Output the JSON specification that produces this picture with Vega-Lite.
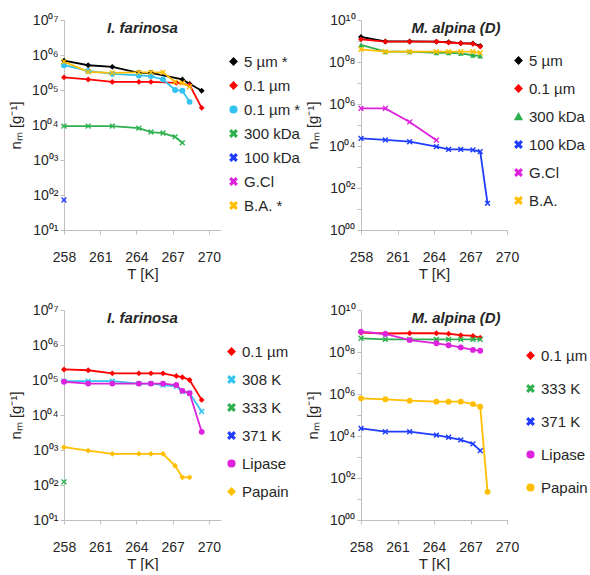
{
  "$schema": "https://vega.github.io/schema/vega-lite/v6.json",
  "padding": {"left": 8, "top": 13, "right": 0, "bottom": 0},
  "columns": 2,
  "bounds": "flush",
  "spacing": {"row": 80, "column": 140},
  "resolve": {
    "scale": {"color": "independent", "shape": "independent", "x": "independent", "y": "independent"},
    "legend": {"color": "independent", "shape": "independent"}
  },
  "config": {
    "view": {"stroke": null},
    "font": "Liberation Sans",
    "axis": {"grid": false, "domainColor": "#bfbfbf", "tickColor": "#bfbfbf", "labelColor": "#262626", "titleColor": "#262626", "labelFontSize": 14, "titleFontSize": 15, "titleFontWeight": "normal", "tickSize": 4, "labelFlush": false, "labelOverlap": false},
    "legend": {"labelFontSize": 15, "labelColor": "#262626", "orient": "none", "padding": 0, "symbolSize": 45, "title": null, "labelOffset": 3},
    "title": {"fontSize": 15, "fontWeight": "bold", "fontStyle": "italic", "color": "#262626", "frame": "group", "anchor": "middle", "offset": -23}
  },
  "concat": [
    {
      "width": 157, "height": 210,
      "title": {"text": "I. farinosa"},
      "data": {"values": [
        {"s": "5 µm *", "T": 258, "n": 690000}, {"s": "5 µm *", "T": 260, "n": 510000}, {"s": "5 µm *", "T": 262, "n": 460000}, {"s": "5 µm *", "T": 264.2, "n": 310000}, {"s": "5 µm *", "T": 265.2, "n": 310000}, {"s": "5 µm *", "T": 267.8, "n": 200000}, {"s": "5 µm *", "T": 268.4, "n": 150000}, {"s": "5 µm *", "T": 269.4, "n": 95000},
        {"s": "0.1 µm", "T": 258, "n": 230000}, {"s": "0.1 µm", "T": 260, "n": 200000}, {"s": "0.1 µm", "T": 262, "n": 170000}, {"s": "0.1 µm", "T": 264.2, "n": 170000}, {"s": "0.1 µm", "T": 265.2, "n": 170000}, {"s": "0.1 µm", "T": 267.3, "n": 160000}, {"s": "0.1 µm", "T": 268.4, "n": 140000}, {"s": "0.1 µm", "T": 269.4, "n": 31000},
        {"s": "0.1 µm *", "T": 258, "n": 510000}, {"s": "0.1 µm *", "T": 260, "n": 350000}, {"s": "0.1 µm *", "T": 262, "n": 290000}, {"s": "0.1 µm *", "T": 264.2, "n": 260000}, {"s": "0.1 µm *", "T": 265.2, "n": 250000}, {"s": "0.1 µm *", "T": 266.2, "n": 200000}, {"s": "0.1 µm *", "T": 267.2, "n": 100000}, {"s": "0.1 µm *", "T": 267.8, "n": 95000}, {"s": "0.1 µm *", "T": 268.4, "n": 46000},
        {"s": "300 kDa", "T": 258, "n": 9300}, {"s": "300 kDa", "T": 260, "n": 9300}, {"s": "300 kDa", "T": 262, "n": 9300}, {"s": "300 kDa", "T": 264.2, "n": 8100}, {"s": "300 kDa", "T": 265.2, "n": 6300}, {"s": "300 kDa", "T": 266.2, "n": 5900}, {"s": "300 kDa", "T": 267.2, "n": 4600}, {"s": "300 kDa", "T": 267.8, "n": 3100},
        {"s": "100 kDa", "T": 258, "n": 72},
        {"s": "B.A. *", "T": 258, "n": 650000}, {"s": "B.A. *", "T": 260, "n": 330000}, {"s": "B.A. *", "T": 262, "n": 310000}, {"s": "B.A. *", "T": 264.2, "n": 320000}, {"s": "B.A. *", "T": 265.2, "n": 320000}, {"s": "B.A. *", "T": 266.2, "n": 320000}, {"s": "B.A. *", "T": 267.2, "n": 170000}, {"s": "B.A. *", "T": 267.8, "n": 160000}, {"s": "B.A. *", "T": 268.4, "n": 125000}
      ]},
      "encoding": {
        "x": {"field": "T", "type": "quantitative", "scale": {"domain": [258, 271], "nice": false, "zero": false}, "axis": {"values": [258, 261, 264, 267, 270], "format": "d", "title": "T [K]", "labelPadding": 16, "titlePadding": 2}},
        "y": {"field": "n", "type": "quantitative", "scale": {"type": "log", "domain": [10, 10000000], "nice": false}, "axis": {"values": [10, 100, 1000, 10000, 100000, 1000000, 10000000], "title": "nₘ [g⁻¹]", "titlePadding": 8, "labelPadding": 2, "labelExpr": "'10' + substring('⁰¹²³⁴⁵⁶⁷⁸⁹', floor(round(log(datum.value)/LN10)/10), floor(round(log(datum.value)/LN10)/10)+1) + substring('⁰¹²³⁴⁵⁶⁷⁸⁹', round(log(datum.value)/LN10)%10, round(log(datum.value)/LN10)%10+1)"}}
      },
      "layer": [
        {"mark": {"type": "line", "strokeWidth": 1.8}, "encoding": {"color": {"field": "s", "type": "nominal", "scale": {"domain": ["5 µm *", "0.1 µm", "0.1 µm *", "300 kDa", "100 kDa", "G.Cl", "B.A. *"], "range": ["#000000", "#ff0000", "#33c3f0", "#2eb04e", "#1f3cff", "#dd22dd", "#ffbf00"]}}}},
        {"mark": {"type": "point", "filled": true, "size": 34, "opacity": 1}, "encoding": {
          "color": {"field": "s", "type": "nominal", "scale": {"domain": ["5 µm *", "0.1 µm", "0.1 µm *", "300 kDa", "100 kDa", "G.Cl", "B.A. *"], "range": ["#000000", "#ff0000", "#33c3f0", "#2eb04e", "#1f3cff", "#dd22dd", "#ffbf00"]}, "legend": {"legendX": 162, "legendY": 34, "rowPadding": 8}},
          "shape": {"field": "s", "type": "nominal", "scale": {"domain": ["5 µm *", "0.1 µm", "0.1 µm *", "300 kDa", "100 kDa", "G.Cl", "B.A. *"], "range": ["diamond", "diamond", "circle", "M-1,-0.65L-0.65,-1L0,-0.35L0.65,-1L1,-0.65L0.35,0L1,0.65L0.65,1L0,0.35L-0.65,1L-1,0.65L-0.35,0Z", "M-1,-0.65L-0.65,-1L0,-0.35L0.65,-1L1,-0.65L0.35,0L1,0.65L0.65,1L0,0.35L-0.65,1L-1,0.65L-0.35,0Z", "M-1,-0.65L-0.65,-1L0,-0.35L0.65,-1L1,-0.65L0.35,0L1,0.65L0.65,1L0,0.35L-0.65,1L-1,0.65L-0.35,0Z", "M-1,-0.65L-0.65,-1L0,-0.35L0.65,-1L1,-0.65L0.35,0L1,0.65L0.65,1L0,0.35L-0.65,1L-1,0.65L-0.35,0Z"]}, "legend": {"legendX": 162, "legendY": 34, "rowPadding": 8}}
        }}
      ]
    },
    {
      "width": 146, "height": 210,
      "title": {"text": "M. alpina (D)", "dx": 22},
      "data": {"values": [
        {"s": "5 µm", "T": 258, "n": 1550000000}, {"s": "5 µm", "T": 260, "n": 950000000}, {"s": "5 µm", "T": 262, "n": 950000000}, {"s": "5 µm", "T": 264.2, "n": 930000000}, {"s": "5 µm", "T": 265.2, "n": 890000000}, {"s": "5 µm", "T": 266.2, "n": 790000000}, {"s": "5 µm", "T": 267.2, "n": 760000000}, {"s": "5 µm", "T": 267.8, "n": 580000000},
        {"s": "0.1 µm", "T": 258, "n": 1200000000}, {"s": "0.1 µm", "T": 260, "n": 930000000}, {"s": "0.1 µm", "T": 262, "n": 930000000}, {"s": "0.1 µm", "T": 264.2, "n": 930000000}, {"s": "0.1 µm", "T": 265.2, "n": 850000000}, {"s": "0.1 µm", "T": 266.2, "n": 780000000}, {"s": "0.1 µm", "T": 267.2, "n": 740000000}, {"s": "0.1 µm", "T": 267.8, "n": 540000000},
        {"s": "300 kDa", "T": 258, "n": 650000000}, {"s": "300 kDa", "T": 260, "n": 310000000}, {"s": "300 kDa", "T": 262, "n": 310000000}, {"s": "300 kDa", "T": 264.2, "n": 275000000}, {"s": "300 kDa", "T": 265.2, "n": 275000000}, {"s": "300 kDa", "T": 266.2, "n": 260000000}, {"s": "300 kDa", "T": 267.2, "n": 210000000}, {"s": "300 kDa", "T": 267.8, "n": 195000000},
        {"s": "100 kDa", "T": 258, "n": 23000}, {"s": "100 kDa", "T": 260, "n": 19500}, {"s": "100 kDa", "T": 262, "n": 16000}, {"s": "100 kDa", "T": 264.2, "n": 9300}, {"s": "100 kDa", "T": 265.2, "n": 6900}, {"s": "100 kDa", "T": 266.2, "n": 6900}, {"s": "100 kDa", "T": 267.2, "n": 6500}, {"s": "100 kDa", "T": 267.8, "n": 5400}, {"s": "100 kDa", "T": 268.4, "n": 18.6},
        {"s": "G.Cl", "T": 258, "n": 620000}, {"s": "G.Cl", "T": 260, "n": 620000}, {"s": "G.Cl", "T": 262, "n": 140000}, {"s": "G.Cl", "T": 264.2, "n": 19000},
        {"s": "B.A.", "T": 258, "n": 400000000}, {"s": "B.A.", "T": 260, "n": 310000000}, {"s": "B.A.", "T": 262, "n": 310000000}, {"s": "B.A.", "T": 264.2, "n": 310000000}, {"s": "B.A.", "T": 265.2, "n": 310000000}, {"s": "B.A.", "T": 266.2, "n": 310000000}, {"s": "B.A.", "T": 267.2, "n": 310000000}, {"s": "B.A.", "T": 267.8, "n": 275000000}
      ]},
      "encoding": {
        "x": {"field": "T", "type": "quantitative", "scale": {"domain": [258, 270], "nice": false, "zero": false}, "axis": {"values": [258, 261, 264, 267, 270], "format": "d", "title": "T [K]", "labelPadding": 16, "titlePadding": 2}},
        "y": {"field": "n", "type": "quantitative", "scale": {"type": "log", "domain": [1, 10000000000], "nice": false}, "axis": {"values": [1, 10, 100, 1000, 10000, 100000, 1000000, 10000000, 100000000, 1000000000, 10000000000], "title": "nₘ [g⁻¹]", "titlePadding": 8, "labelPadding": 2, "labelExpr": "round(log(datum.value)/LN10)%2==1 ? '' : '10' + substring('⁰¹²³⁴⁵⁶⁷⁸⁹', floor(round(log(datum.value)/LN10)/10), floor(round(log(datum.value)/LN10)/10)+1) + substring('⁰¹²³⁴⁵⁶⁷⁸⁹', round(log(datum.value)/LN10)%10, round(log(datum.value)/LN10)%10+1)"}}
      },
      "layer": [
        {"mark": {"type": "line", "strokeWidth": 1.8}, "encoding": {"color": {"field": "s", "type": "nominal", "scale": {"domain": ["5 µm", "0.1 µm", "300 kDa", "100 kDa", "G.Cl", "B.A."], "range": ["#000000", "#ff0000", "#2eb04e", "#1f3cff", "#dd22dd", "#ffbf00"]}}}},
        {"mark": {"type": "point", "filled": true, "size": 34, "opacity": 1}, "encoding": {
          "color": {"field": "s", "type": "nominal", "scale": {"domain": ["5 µm", "0.1 µm", "300 kDa", "100 kDa", "G.Cl", "B.A."], "range": ["#000000", "#ff0000", "#2eb04e", "#1f3cff", "#dd22dd", "#ffbf00"]}, "legend": {"legendX": 150, "legendY": 33, "rowPadding": 12}},
          "shape": {"field": "s", "type": "nominal", "scale": {"domain": ["5 µm", "0.1 µm", "300 kDa", "100 kDa", "G.Cl", "B.A."], "range": ["diamond", "diamond", "triangle-up", "M-1,-0.65L-0.65,-1L0,-0.35L0.65,-1L1,-0.65L0.35,0L1,0.65L0.65,1L0,0.35L-0.65,1L-1,0.65L-0.35,0Z", "M-1,-0.65L-0.65,-1L0,-0.35L0.65,-1L1,-0.65L0.35,0L1,0.65L0.65,1L0,0.35L-0.65,1L-1,0.65L-0.35,0Z", "M-1,-0.65L-0.65,-1L0,-0.35L0.65,-1L1,-0.65L0.35,0L1,0.65L0.65,1L0,0.35L-0.65,1L-1,0.65L-0.35,0Z"]}, "legend": {"legendX": 150, "legendY": 33, "rowPadding": 12}}
        }}
      ]
    },
    {
      "width": 157, "height": 210,
      "title": {"text": "I. farinosa"},
      "data": {"values": [
        {"s": "0.1 µm", "T": 258, "n": 200000}, {"s": "0.1 µm", "T": 260, "n": 190000}, {"s": "0.1 µm", "T": 262, "n": 155000}, {"s": "0.1 µm", "T": 264.2, "n": 155000}, {"s": "0.1 µm", "T": 265.2, "n": 155000}, {"s": "0.1 µm", "T": 266.2, "n": 155000}, {"s": "0.1 µm", "T": 267.3, "n": 130000}, {"s": "0.1 µm", "T": 267.8, "n": 120000}, {"s": "0.1 µm", "T": 268.4, "n": 100000}, {"s": "0.1 µm", "T": 269.4, "n": 27000},
        {"s": "308 K", "T": 258, "n": 93000}, {"s": "308 K", "T": 260, "n": 93000}, {"s": "308 K", "T": 262, "n": 93000}, {"s": "308 K", "T": 264.2, "n": 79000}, {"s": "308 K", "T": 265.2, "n": 79000}, {"s": "308 K", "T": 266.2, "n": 72000}, {"s": "308 K", "T": 267.3, "n": 66000}, {"s": "308 K", "T": 267.8, "n": 47000}, {"s": "308 K", "T": 268.4, "n": 42000}, {"s": "308 K", "T": 269.4, "n": 12600},
        {"s": "333 K", "T": 258, "n": 123},
        {"s": "Lipase", "T": 258, "n": 89000}, {"s": "Lipase", "T": 260, "n": 79000}, {"s": "Lipase", "T": 262, "n": 79000}, {"s": "Lipase", "T": 264.2, "n": 79000}, {"s": "Lipase", "T": 265.2, "n": 79000}, {"s": "Lipase", "T": 266.2, "n": 79000}, {"s": "Lipase", "T": 267.3, "n": 72000}, {"s": "Lipase", "T": 267.8, "n": 49000}, {"s": "Lipase", "T": 268.4, "n": 42000}, {"s": "Lipase", "T": 269.4, "n": 3300},
        {"s": "Papain", "T": 258, "n": 1200}, {"s": "Papain", "T": 260, "n": 955}, {"s": "Papain", "T": 262, "n": 776}, {"s": "Papain", "T": 264.2, "n": 776}, {"s": "Papain", "T": 265.2, "n": 776}, {"s": "Papain", "T": 266.2, "n": 776}, {"s": "Papain", "T": 267.2, "n": 355}, {"s": "Papain", "T": 267.8, "n": 166}, {"s": "Papain", "T": 268.4, "n": 166}
      ]},
      "encoding": {
        "x": {"field": "T", "type": "quantitative", "scale": {"domain": [258, 271], "nice": false, "zero": false}, "axis": {"values": [258, 261, 264, 267, 270], "format": "d", "title": "T [K]", "labelPadding": 16, "titlePadding": 2}},
        "y": {"field": "n", "type": "quantitative", "scale": {"type": "log", "domain": [10, 10000000], "nice": false}, "axis": {"values": [10, 100, 1000, 10000, 100000, 1000000, 10000000], "title": "nₘ [g⁻¹]", "titlePadding": 8, "labelPadding": 2, "labelExpr": "'10' + substring('⁰¹²³⁴⁵⁶⁷⁸⁹', floor(round(log(datum.value)/LN10)/10), floor(round(log(datum.value)/LN10)/10)+1) + substring('⁰¹²³⁴⁵⁶⁷⁸⁹', round(log(datum.value)/LN10)%10, round(log(datum.value)/LN10)%10+1)"}}
      },
      "layer": [
        {"mark": {"type": "line", "strokeWidth": 1.8}, "encoding": {"color": {"field": "s", "type": "nominal", "scale": {"domain": ["0.1 µm", "308 K", "333 K", "371 K", "Lipase", "Papain"], "range": ["#ff0000", "#33c3f0", "#2eb04e", "#1f3cff", "#dd22dd", "#ffbf00"]}}}},
        {"mark": {"type": "point", "filled": true, "size": 34, "opacity": 1}, "encoding": {
          "color": {"field": "s", "type": "nominal", "scale": {"domain": ["0.1 µm", "308 K", "333 K", "371 K", "Lipase", "Papain"], "range": ["#ff0000", "#33c3f0", "#2eb04e", "#1f3cff", "#dd22dd", "#ffbf00"]}, "legend": {"legendX": 160, "legendY": 34, "rowPadding": 12}},
          "shape": {"field": "s", "type": "nominal", "scale": {"domain": ["0.1 µm", "308 K", "333 K", "371 K", "Lipase", "Papain"], "range": ["diamond", "M-1,-0.65L-0.65,-1L0,-0.35L0.65,-1L1,-0.65L0.35,0L1,0.65L0.65,1L0,0.35L-0.65,1L-1,0.65L-0.35,0Z", "M-1,-0.65L-0.65,-1L0,-0.35L0.65,-1L1,-0.65L0.35,0L1,0.65L0.65,1L0,0.35L-0.65,1L-1,0.65L-0.35,0Z", "M-1,-0.65L-0.65,-1L0,-0.35L0.65,-1L1,-0.65L0.35,0L1,0.65L0.65,1L0,0.35L-0.65,1L-1,0.65L-0.35,0Z", "circle", "diamond"]}, "legend": {"legendX": 160, "legendY": 34, "rowPadding": 12}}
        }}
      ]
    },
    {
      "width": 146, "height": 210,
      "title": {"text": "M. alpina (D)", "dx": 22},
      "data": {"values": [
        {"s": "0.1 µm", "T": 258, "n": 850000000}, {"s": "0.1 µm", "T": 260, "n": 760000000}, {"s": "0.1 µm", "T": 262, "n": 780000000}, {"s": "0.1 µm", "T": 264.2, "n": 780000000}, {"s": "0.1 µm", "T": 265.2, "n": 740000000}, {"s": "0.1 µm", "T": 266.2, "n": 630000000}, {"s": "0.1 µm", "T": 267.2, "n": 580000000}, {"s": "0.1 µm", "T": 267.8, "n": 480000000},
        {"s": "333 K", "T": 258, "n": 450000000}, {"s": "333 K", "T": 260, "n": 400000000}, {"s": "333 K", "T": 262, "n": 400000000}, {"s": "333 K", "T": 264.2, "n": 400000000}, {"s": "333 K", "T": 265.2, "n": 400000000}, {"s": "333 K", "T": 266.2, "n": 400000000}, {"s": "333 K", "T": 267.2, "n": 400000000}, {"s": "333 K", "T": 267.8, "n": 400000000},
        {"s": "371 K", "T": 258, "n": 23000}, {"s": "371 K", "T": 260, "n": 16000}, {"s": "371 K", "T": 262, "n": 16000}, {"s": "371 K", "T": 264.2, "n": 11000}, {"s": "371 K", "T": 265.2, "n": 8700}, {"s": "371 K", "T": 266.2, "n": 6500}, {"s": "371 K", "T": 267.2, "n": 4200}, {"s": "371 K", "T": 267.8, "n": 2000},
        {"s": "Lipase", "T": 258, "n": 930000000}, {"s": "Lipase", "T": 260, "n": 720000000}, {"s": "Lipase", "T": 262, "n": 370000000}, {"s": "Lipase", "T": 264.2, "n": 260000000}, {"s": "Lipase", "T": 265.2, "n": 210000000}, {"s": "Lipase", "T": 266.2, "n": 166000000}, {"s": "Lipase", "T": 267.2, "n": 126000000}, {"s": "Lipase", "T": 267.8, "n": 115000000},
        {"s": "Papain", "T": 258, "n": 620000}, {"s": "Papain", "T": 260, "n": 560000}, {"s": "Papain", "T": 262, "n": 480000}, {"s": "Papain", "T": 264.2, "n": 430000}, {"s": "Papain", "T": 265.2, "n": 430000}, {"s": "Papain", "T": 266.2, "n": 430000}, {"s": "Papain", "T": 267.2, "n": 330000}, {"s": "Papain", "T": 267.8, "n": 250000}, {"s": "Papain", "T": 268.4, "n": 22}
      ]},
      "encoding": {
        "x": {"field": "T", "type": "quantitative", "scale": {"domain": [258, 270], "nice": false, "zero": false}, "axis": {"values": [258, 261, 264, 267, 270], "format": "d", "title": "T [K]", "labelPadding": 16, "titlePadding": 2}},
        "y": {"field": "n", "type": "quantitative", "scale": {"type": "log", "domain": [1, 10000000000], "nice": false}, "axis": {"values": [1, 10, 100, 1000, 10000, 100000, 1000000, 10000000, 100000000, 1000000000, 10000000000], "title": "nₘ [g⁻¹]", "titlePadding": 8, "labelPadding": 2, "labelExpr": "round(log(datum.value)/LN10)%2==1 ? '' : '10' + substring('⁰¹²³⁴⁵⁶⁷⁸⁹', floor(round(log(datum.value)/LN10)/10), floor(round(log(datum.value)/LN10)/10)+1) + substring('⁰¹²³⁴⁵⁶⁷⁸⁹', round(log(datum.value)/LN10)%10, round(log(datum.value)/LN10)%10+1)"}}
      },
      "layer": [
        {"mark": {"type": "line", "strokeWidth": 1.8}, "encoding": {"color": {"field": "s", "type": "nominal", "scale": {"domain": ["0.1 µm", "333 K", "371 K", "Lipase", "Papain"], "range": ["#ff0000", "#2eb04e", "#1f3cff", "#dd22dd", "#ffbf00"]}}}},
        {"mark": {"type": "point", "filled": true, "size": 34, "opacity": 1}, "encoding": {
          "color": {"field": "s", "type": "nominal", "scale": {"domain": ["0.1 µm", "333 K", "371 K", "Lipase", "Papain"], "range": ["#ff0000", "#2eb04e", "#1f3cff", "#dd22dd", "#ffbf00"]}, "legend": {"legendX": 162, "legendY": 38, "rowPadding": 17}},
          "shape": {"field": "s", "type": "nominal", "scale": {"domain": ["0.1 µm", "333 K", "371 K", "Lipase", "Papain"], "range": ["diamond", "M-1,-0.65L-0.65,-1L0,-0.35L0.65,-1L1,-0.65L0.35,0L1,0.65L0.65,1L0,0.35L-0.65,1L-1,0.65L-0.35,0Z", "M-1,-0.65L-0.65,-1L0,-0.35L0.65,-1L1,-0.65L0.35,0L1,0.65L0.65,1L0,0.35L-0.65,1L-1,0.65L-0.35,0Z", "circle", "circle"]}, "legend": {"legendX": 162, "legendY": 38, "rowPadding": 17}}
        }}
      ]
    }
  ]
}
